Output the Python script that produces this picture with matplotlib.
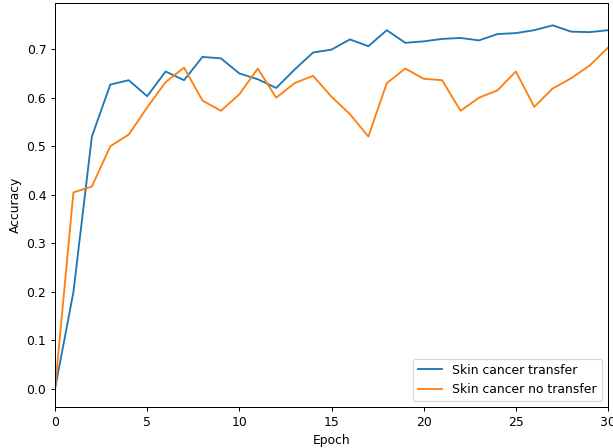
import matplotlib
matplotlib.use("Agg")
import matplotlib.pyplot as plt

epochs = list(range(31))
acc_transfer = [0.0, 0.200, 0.520, 0.627, 0.636, 0.603, 0.654, 0.636, 0.684, 0.681,
                0.650, 0.638, 0.620, 0.658, 0.693, 0.699, 0.720, 0.706, 0.739, 0.713,
                0.716, 0.721, 0.723, 0.718, 0.731, 0.733, 0.739, 0.749, 0.736, 0.735,
                0.739]
acc_no_transfer = [0.0, 0.405, 0.417, 0.500, 0.524, 0.580, 0.632, 0.662, 0.594, 0.573,
                   0.607, 0.660, 0.600, 0.630, 0.645, 0.602, 0.566, 0.520, 0.630, 0.660,
                   0.639, 0.636, 0.573, 0.600, 0.615, 0.654, 0.581, 0.619, 0.640, 0.666,
                   0.703]

dpi = 89
fig = plt.figure(figsize=(613 / dpi, 448 / dpi), dpi=dpi)
ax = fig.add_axes([55 / 613, 1 - 407 / 448, (608 - 55) / 613, (407 - 3) / 448])
ax.plot(epochs, acc_transfer, color="#1f77b4", label="Skin cancer transfer")
ax.plot(epochs, acc_no_transfer, color="#ff7f0e", label="Skin cancer no transfer")
ax.set_xlim(0, 30)
ax.set_ylim(-0.037, 0.795)
ax.set_xlabel("Epoch")
ax.set_ylabel("Accuracy")
ax.legend(loc="lower right")
fig.savefig("out.png", dpi=dpi)
